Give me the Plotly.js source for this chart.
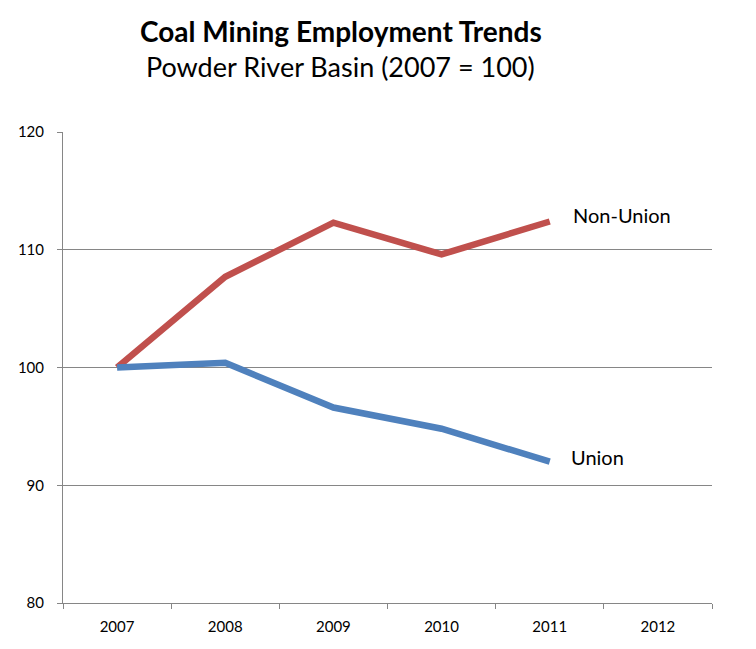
<!DOCTYPE html>
<html>
<head>
<meta charset="utf-8">
<script src="https://cdn.plot.ly/plotly-3.0.1.min.js"></script>
<style>
  html, body { margin: 0; padding: 0; background: #fff; }
  #chart { width: 756px; height: 649px; }
</style>
</head>
<body>
<div id="chart"></div>
<script>
// values (2007 = 100)
const years = ['2007', '2008', '2009', '2010', '2011', '2012'];
const nonUnion = [100, 107.7, 112.3, 109.6, 112.4, null];
const union = [100, 100.4, 96.6, 94.8, 92.0, null];
const yTicks = [80, 90, 100, 110, 120];

const font = 'Lato, "Open Sans", sans-serif';
const gray = '#868686';
const lastIdx = 4; // category index of 2011, where the series end

const traces = [
    {
        type: 'scatter',
        mode: 'lines',
        name: 'Non-Union',
        x: years,
        y: nonUnion,
        line: { color: '#C0504D', width: 6.5 }
    },
    {
        type: 'scatter',
        mode: 'lines',
        name: 'Union',
        x: years,
        y: union,
        line: { color: '#4F81BD', width: 6.5 }
    }
];

const layout = {
    width: 756,
    height: 649,
    margin: { l: 63, r: 44, t: 132, b: 46 },
    paper_bgcolor: '#fff',
    plot_bgcolor: '#fff',
    showlegend: false,
    font: { family: font, color: '#000', size: 14 },
    xaxis: {
        type: 'category',
        range: [-0.5, 5.5],
        showgrid: false,
        showline: true,
        linecolor: gray,
        linewidth: 1,
        ticks: 'outside',
        tickson: 'boundaries',
        ticklen: 5,
        tickcolor: gray,
        ticklabelstandoff: 10,
        tickfont: { family: font, size: 15 },
        fixedrange: true
    },
    yaxis: {
        range: [80, 120],
        tickvals: yTicks,
        showgrid: true,
        gridcolor: gray,
        gridwidth: 1,
        zeroline: false,
        showline: true,
        linecolor: gray,
        linewidth: 1,
        ticks: 'outside',
        ticklen: 5,
        tickcolor: gray,
        ticklabelstandoff: 10,
        tickfont: { family: font, size: 15 },
        fixedrange: true
    },
    annotations: [
        {
            xref: 'paper', yref: 'paper',
            x: 0.428, y: (603 - 31) / 471,
            yanchor: 'middle',
            text: '<b>Coal Mining Employment Trends</b>',
            showarrow: false,
            font: { family: font, size: 28, color: '#000' }
        },
        {
            xref: 'paper', yref: 'paper',
            x: 0.428, y: (603 - 66) / 471,
            yanchor: 'middle',
            text: 'Powder River Basin (2007 = 100)',
            showarrow: false,
            font: { family: font, size: 27, color: '#000' }
        },
        {
            x: lastIdx, y: nonUnion[lastIdx],
            text: 'Non-Union',
            showarrow: false,
            xanchor: 'left',
            xshift: 21, yshift: 6,
            font: { family: font, size: 20, color: '#000' }
        },
        {
            x: lastIdx, y: union[lastIdx],
            text: 'Union',
            showarrow: false,
            xanchor: 'left',
            xshift: 19, yshift: 5,
            font: { family: font, size: 20, color: '#000' }
        }
    ]
};

Plotly.newPlot('chart', traces, layout, { displayModeBar: false, staticPlot: true });
</script>
</body>
</html>
